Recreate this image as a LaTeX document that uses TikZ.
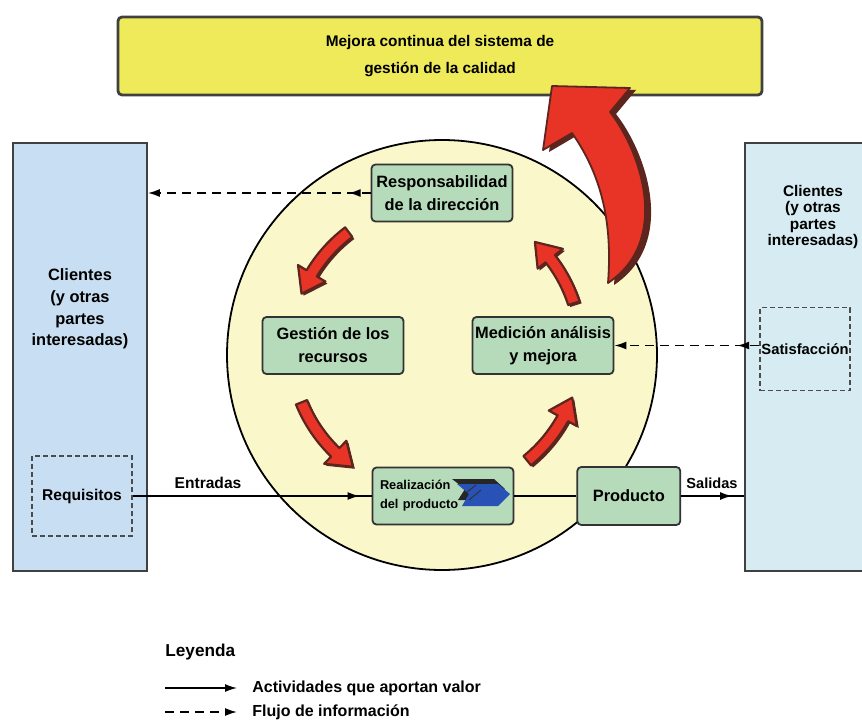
\documentclass[tikz,border=0pt]{standalone}
\usepackage{fontspec}
\setmainfont{Liberation Sans}
\usetikzlibrary{arrows.meta,positioning,calc,decorations.markings}
\definecolor{amarillo}{RGB}{238,234,90}
\definecolor{circulo}{RGB}{250,247,202}
\definecolor{azulc}{RGB}{200,222,242}
\definecolor{celeste}{RGB}{214,236,242}
\definecolor{verde}{RGB}{182,219,186}
\definecolor{rojo}{RGB}{232,52,38}
\definecolor{sombra}{RGB}{92,38,30}
\definecolor{azul}{RGB}{40,82,182}
\newcommand{\letra}[2]{\fontsize{#1}{#2}\selectfont\bfseries}
% flecha roja curva: angulo inicial, angulo final
\newcommand{\curva}[2]{(#1:151) arc[start angle=#1,end angle=#2-9,radius=151]
  -- (#2-9:161) -- (#2:145) -- (#2-9:129) -- (#2-9:139)
  arc[start angle=#2-9,end angle=#1,radius=139] -- cycle}
\newcommand{\grande}{(608,283) .. controls (612,230) and (605,180) .. (572,133)
  -- (543,150) -- (552,86) -- (630,88) -- (610,112)
  .. controls (640,150) and (672,240) .. (608,283) -- cycle}
\tikzset{
  proc/.style={draw=black!80,fill=verde,line width=0.9pt,rounded corners=2pt,
    align=center,minimum width=70.5pt,minimum height=28.5pt,inner sep=1pt,
    font=\letra{8.2}{11.5}},
  caja/.style={draw=black!75,line width=0.9pt},
  punt/.style={draw=black!70,line width=0.8pt,dash pattern=on 2.5pt off 1.5pt,
    inner sep=0pt},
  texto/.style={align=center,inner sep=0pt,font=\letra{8.2}{10.8}},
  etiq/.style={inner sep=0pt,font=\letra{7.8}{9}},
  punta/.style={-{Latex[length=6pt,width=4pt]}},
  act/.style={line width=0.7pt,postaction={decorate},decoration={markings,
    mark=at position -6pt with {\arrow{Latex[length=6pt,width=4pt]}}}},
  info/.style={line width=0.8pt,dash pattern=on 4.5pt off 3pt,punta,
    postaction={decorate},decoration={markings,
    mark=at position 11pt with {\arrow{Latex[length=6pt,width=4pt]}}}},
  rojoarc/.style={fill=rojo,draw=sombra,line width=1.1pt,line join=round},
  somb/.style={fill=sombra},
}
\begin{document}
\begin{tikzpicture}[x=0.5pt,y=-0.5pt]
  \useasboundingbox (0,0) rectangle (862,722);
  \clip (0,0) rectangle (862,722);
  % cajas exteriores
  \node[caja,fill=amarillo,line width=1.4pt,rounded corners=2pt,minimum width=322pt,
    minimum height=39pt,align=center,font=\letra{7.7}{13.5}] (mejora) at (440,56)
    {Mejora continua del sistema de\\gestión de la calidad};
  \node[caja,fill=azulc,minimum width=67pt,minimum height=214pt] (cliI) at (80,357) {};
  \node[caja,fill=celeste,minimum width=70pt,minimum height=214pt] (cliD) at (815,357) {};
  \node[texto] (txtI) at (80,309) {Clientes\\(y otras\\partes\\interesadas)};
  \node[texto,font=\letra{7.7}{8.3}] (txtD) at (813,217) {Clientes\\(y otras\\partes\\interesadas)};
  \node[punt,minimum width=50pt,minimum height=40pt,font=\letra{7.8}{9}] (req) at (82,496) {Requisitos};
  \node[punt,minimum width=45pt,minimum height=41.5pt,font=\letra{7.4}{9}] (sat) at (805,349) {Satisfacción};
  % ciclo
  \node[circle,draw=black,line width=0.9pt,fill=circulo,minimum size=215pt,inner sep=0pt] (ciclo) at (442,355) {};
  \node[proc] (resp) at (442,193) {Responsabilidad\\de la dirección};
  \node[proc] (gest) at (333,345.5) {Gestión de los\\recursos};
  \node[proc] (med) at (543,345.5) {Medición análisis\\y mejora};
  \node[proc,text width=63pt,inner xsep=3.75pt,align=left,font=\letra{6.4}{9.5}] (real) at (443,496)
    {Realización\\del producto};
  \node[proc,minimum width=51.5pt,minimum height=29pt,right=31pt of real] (prod) {Producto};
  % flujos
  \draw[info] (resp.west) -- (resp.west -| cliI.east);
  \draw[info] (sat.west |- med.east) -- (med.east);
  \draw[act] (req.east) -- (real.west);
  \draw[line width=0.7pt] (real.east) -- (prod.west);
  \draw[act] (prod.east) -- (prod.east -| cliD.west);
  \node[etiq] (ent) at (208,483) {Entradas};
  \node[etiq,font=\letra{7.3}{9}] (sal) at (712,483) {Salidas};
  % flechas rojas del ciclo
  \begin{scope}[shift={(436,348)},x=0.5pt,y=0.5pt]
    \foreach \a/\b in {127/158,202/235,309/340,18/47}{
      \fill[somb,shift={(2,-2)}] \curva{\a}{\b};
      \filldraw[rojoarc] \curva{\a}{\b};
    }
  \end{scope}
  \fill[somb,shift={(6,2)}] \grande;
  \filldraw[rojoarc,line width=0.9pt] \grande;
  % flecha azul
  \fill[black!85] (452,479) -- (494,479) -- (505,489) -- (494,500) -- (458,500) -- (465,489) -- cycle;
  \fill[azul] (457,484) -- (498,484) -- (510,494) -- (498,506) -- (462,506) -- (469,494) -- cycle;
  \draw[black!80,line width=0.5pt] (467,492) -- (476,485) (469,500) -- (481,490);
  % leyenda
  \node[anchor=west,inner sep=0pt,font=\letra{8.6}{10}] (ley) at (165,652) {Leyenda};
  \coordinate (l1a) at (165,688); \coordinate (l1b) at (237,688);
  \coordinate (l2a) at (165,712); \coordinate (l2b) at (237,712);
  \draw[punta,line width=0.7pt] (l1a) -- (l1b);
  \draw[punta,line width=0.8pt,dash pattern=on 4.5pt off 3pt] (l2a) -- (l2b);
  \node[anchor=west,inner sep=0pt,font=\letra{8}{10}] (ley1) at (252,688) {Actividades que aportan valor};
  \node[anchor=west,inner sep=0pt,font=\letra{8}{10}] (ley2) at (252,712) {Flujo de información};
\end{tikzpicture}
\end{document}
